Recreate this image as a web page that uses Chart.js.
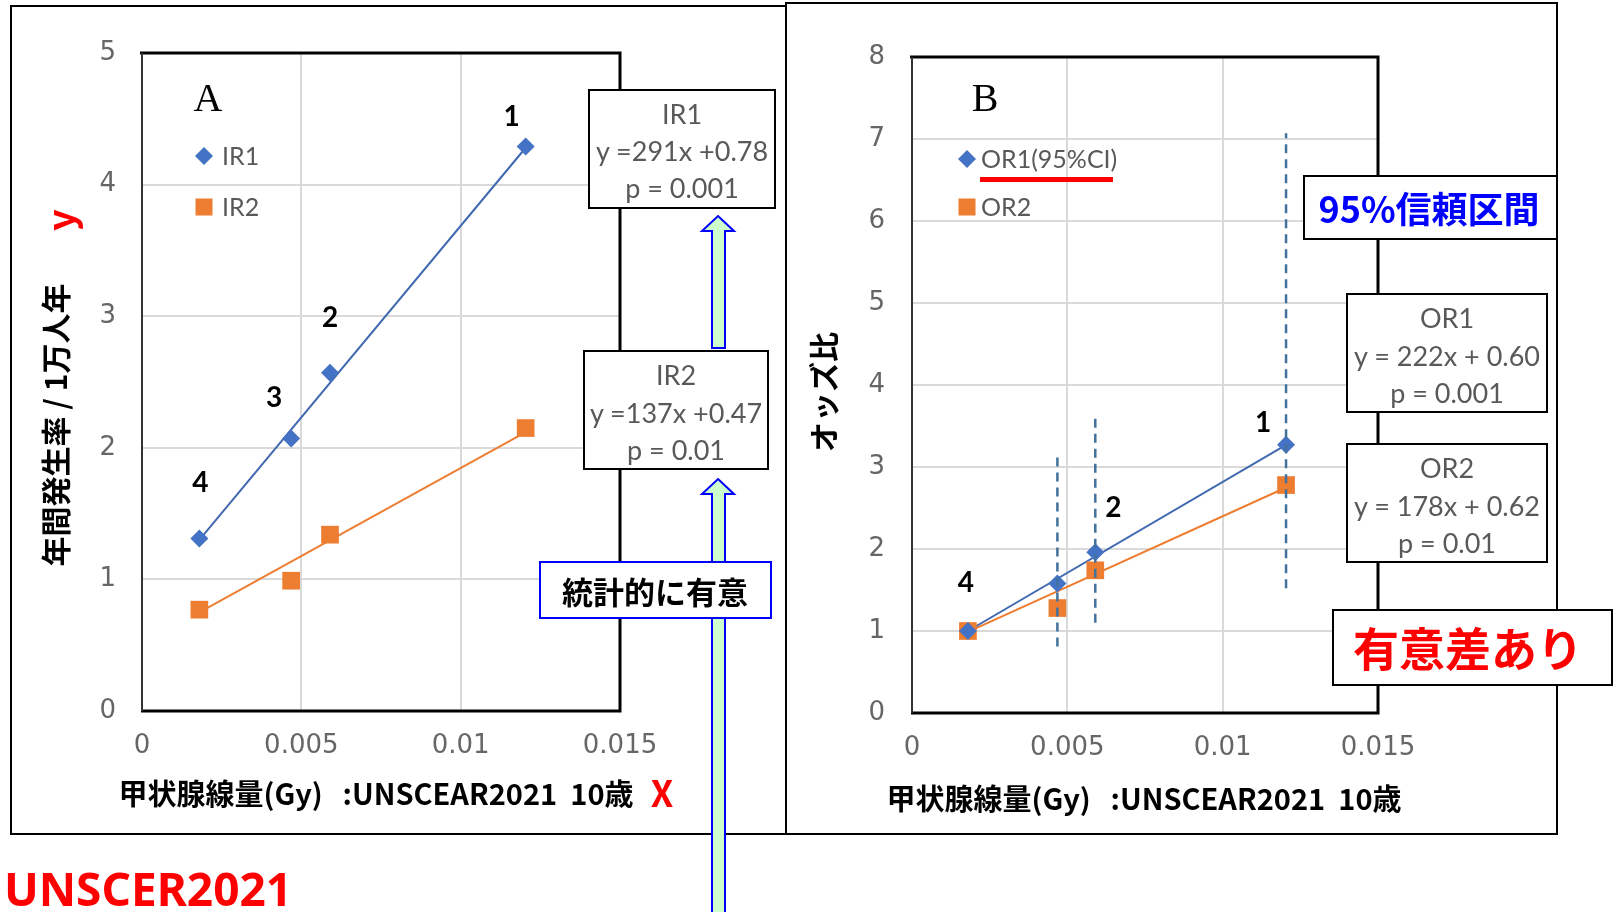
<!DOCTYPE html>
<html>
<head>
<meta charset="utf-8">
<script src="https://cdn.jsdelivr.net/npm/chart.js@4.4.1/dist/chart.umd.min.js"></script>
<style>
  html, body { margin: 0; padding: 0; background: #fff; }
  body { width: 1616px; height: 912px; position: relative; overflow: hidden;
         font-family: "Noto Sans CJK JP", "Noto Sans", sans-serif; }
  canvas { position: absolute; left: 0; top: 0; z-index: 1; }
  .frame { position: absolute; border: 2px solid #000; box-sizing: border-box; z-index: 0; }
  .box { position: absolute; border: 2px solid #000; background: #fff; box-sizing: border-box; z-index: 3; }
  .t { position: absolute; transform: translate(-50%, -50%); white-space: nowrap; line-height: 1; z-index: 4; }
  .eq { font-family: Lato, "Noto Sans", sans-serif; font-size: 27px; color: #595959; }
  .bold { font-weight: 700; color: #000; }
  .serif { font-family: "Liberation Serif", "DejaVu Serif", serif; font-size: 40px; color: #000; }
  svg.arrows { position: absolute; left: 0; top: 0; z-index: 2; }
</style>
</head>
<body>

<div class="frame" style="left:10px;top:5px;width:777px;height:830px;"></div>
<div class="frame" style="left:785px;top:2px;width:773px;height:833px;"></div>

<canvas id="chartA" width="1616" height="912"></canvas>
<canvas id="chartB" width="1616" height="912"></canvas>

<svg class="arrows" width="1616" height="912">
  <polygon points="718,216 734,231 725,231 725,348 712,348 712,231 702,231" fill="#ccffcc" stroke="#0000ff" stroke-width="2"/>
  <polygon points="718,479 734,494 725,494 725,916 712,916 712,494 702,494" fill="#ccffcc" stroke="#0000ff" stroke-width="2"/>
</svg>

<!-- panel A annotations -->
<div class="t serif" style="left:208px;top:98px;">A</div>
<div class="t bold" style="left:54px;top:425px;font-size:30px;transform:translate(-50%,-50%) rotate(-90deg);">年間発生率 / 1万人年</div>
<div class="t bold" style="left:59px;top:220px;font-size:38px;color:#ff0000;transform:translate(-50%,-50%) rotate(-90deg);">y</div>
<div class="t bold" style="left:376px;top:792px;font-size:29px;">甲状腺線量(Gy)&nbsp;&nbsp;&nbsp;:UNSCEAR2021&nbsp;&nbsp;10歳</div>
<div class="t bold" style="left:662px;top:791px;font-size:36px;color:#ff0000;">X</div>

<div class="box" style="left:588px;top:89px;width:188px;height:120px;"></div>
<div class="t eq" style="left:682px;top:113px;">IR1</div>
<div class="t eq" style="left:682px;top:150px;">y =291x +0.78</div>
<div class="t eq" style="left:682px;top:187px;">p = 0.001</div>

<div class="box" style="left:583px;top:350px;width:186px;height:120px;"></div>
<div class="t eq" style="left:676px;top:374px;">IR2</div>
<div class="t eq" style="left:676px;top:412px;">y =137x +0.47</div>
<div class="t eq" style="left:676px;top:449px;">p = 0.01</div>

<div class="box" style="left:539px;top:561px;width:233px;height:58px;border-color:#0000ff;"></div>
<div class="t bold" style="left:655px;top:590px;font-size:31px;">統計的に有意</div>

<div class="t bold" style="left:148px;top:888px;font-size:46px;color:#ff0000;font-family:'Noto Sans',sans-serif;">UNSCER2021</div>

<!-- panel B annotations -->
<div class="t serif" style="left:985px;top:98px;">B</div>
<div class="t bold" style="left:822px;top:392px;font-size:30px;transform:translate(-50%,-50%) rotate(-90deg);">オッズ比</div>
<div class="t bold" style="left:1144px;top:797px;font-size:29px;">甲状腺線量(Gy)&nbsp;&nbsp;&nbsp;:UNSCEAR2021&nbsp;&nbsp;10歳</div>
<div style="position:absolute;left:980px;top:177px;width:133px;height:5px;background:#ff0000;z-index:4;"></div>

<div class="box" style="left:1303px;top:175px;width:255px;height:65px;"></div>
<div class="t bold" style="left:1429px;top:207px;font-size:36px;color:#0000ff;">95%信頼区間</div>

<div class="box" style="left:1346px;top:293px;width:202px;height:120px;"></div>
<div class="t eq" style="left:1447px;top:317px;">OR1</div>
<div class="t eq" style="left:1447px;top:355px;">y = 222x + 0.60</div>
<div class="t eq" style="left:1447px;top:392px;">p = 0.001</div>

<div class="box" style="left:1346px;top:443px;width:202px;height:120px;"></div>
<div class="t eq" style="left:1447px;top:467px;">OR2</div>
<div class="t eq" style="left:1447px;top:505px;">y = 178x + 0.62</div>
<div class="t eq" style="left:1447px;top:542px;">p = 0.01</div>

<div class="box" style="left:1332px;top:609px;width:281px;height:77px;"></div>
<div class="t bold" style="left:1468px;top:646px;font-size:46px;color:#ff0000;">有意差あり</div>

<script>
// Thyroid dose (Gy), UNSCEAR2021, age 10 — regions 4, 3, 2, 1
const dose = [0.0018, 0.00468, 0.0059, 0.01204];
const pointNamesA = ['4', '3', '2', '1'];
const pointNamesB = ['4', '', '2', '1'];

// Panel A: annual incidence per 10,000 person-years
const ir1 = [1.31, 2.07, 2.57, 4.29];
const ir2 = [0.77, 0.99, 1.34, 2.15];
const ir1Trend = [1.30, 4.28];
const ir2Trend = [0.75, 2.12];

// Panel B: odds ratio with 95% CI for OR1
const or1 = [1.00, 1.58, 1.96, 3.27];
const or2 = [1.00, 1.28, 1.74, 2.78];
const or1Trend = [1.00, 3.27];
const or2Trend = [0.99, 2.75];
const or1CiLow = [null, 0.81, 1.10, 1.52];
const or1CiHigh = [null, 3.13, 3.62, 7.07];

const xTickValues = [0, 0.005, 0.01, 0.015];
const xTickLabels = ['0', '0.005', '0.01', '0.015'];
const yTickValuesA = [0, 1, 2, 3, 4, 5];
const yTickValuesB = [0, 1, 2, 3, 4, 5, 6, 7, 8];

const BLUE = '#4472C4';
const BLUE_LINE = '#4169B0';
const ORANGE = '#ED7D31';
const CI_BLUE = '#41719C';
const GRID = '#d9d9d9';
const TICK_COLOR = '#666';
const TICK_FONT = { family: '"DejaVu Sans"', size: 26 };

const pts = (xs, ys) => xs.map((x, i) => ({ x, y: ys[i] }));
const ends = (ys) => [{ x: dose[0], y: ys[0] }, { x: dose[dose.length - 1], y: ys[1] }];

// frame, point names and in-plot legend
const plotDecor = {
  id: 'plotDecor',
  afterDatasetsDraw(chart, args, opts) {
    const { ctx, chartArea: a } = chart;
    ctx.save();
    // point names
    ctx.font = 'bold 28px Lato, "Noto Sans", sans-serif';
    ctx.fillStyle = '#000';
    ctx.textAlign = 'center';
    ctx.textBaseline = 'middle';
    chart.data.datasets.forEach((ds, di) => {
      if (!ds.names) return;
      chart.getDatasetMeta(di).data.forEach((el, i) => {
        const name = ds.names[i];
        const off = opts.nameOffsets[i];
        if (!name || !off) return;
        ctx.fillText(name, el.x + off[0], el.y + off[1]);
      });
    });
    // legend
    ctx.font = '25px Lato, "Noto Sans", sans-serif';
    ctx.textAlign = 'left';
    let row = 0;
    chart.data.datasets.forEach((ds) => {
      if (!ds.inLegend) return;
      const cx = opts.legend.x;
      const cy = opts.legend.y + row * opts.legend.dy;
      ctx.fillStyle = ds.backgroundColor;
      ctx.beginPath();
      if (ds.pointStyle === 'rectRot') {
        const r = 9;
        ctx.moveTo(cx, cy - r); ctx.lineTo(cx + r, cy); ctx.lineTo(cx, cy + r); ctx.lineTo(cx - r, cy);
        ctx.closePath();
      } else {
        ctx.rect(cx - 8.5, cy - 8.5, 17, 17);
      }
      ctx.fill();
      ctx.fillStyle = '#595959';
      ctx.fillText(ds.label, opts.legend.textX, cy + 1);
      row++;
    });
    // plot frame
    ctx.strokeStyle = '#000';
    ctx.lineWidth = 3;
    ctx.beginPath();
    ctx.moveTo(a.left - 2, a.top);
    ctx.lineTo(a.right, a.top);
    ctx.lineTo(a.right, a.bottom);
    ctx.lineTo(a.left - 1, a.bottom);
    ctx.stroke();
    ctx.lineWidth = 2;
    ctx.strokeStyle = '#333';
    ctx.beginPath();
    ctx.moveTo(a.left, a.top);
    ctx.lineTo(a.left, a.bottom);
    ctx.stroke();
    ctx.restore();
  }
};

function axes(yTicks, yMax, yWidth, xHeight, yPad) {
  return {
    x: {
      type: 'linear', min: 0, max: 0.015,
      afterBuildTicks: (s) => { s.ticks = xTickValues.map(v => ({ value: v })); },
      afterFit: (s) => { s.height = xHeight; },
      ticks: { callback: (v, i) => xTickLabels[i], font: TICK_FONT, color: TICK_COLOR,
               padding: 20, maxRotation: 0, autoSkip: false },
      grid: { color: GRID, lineWidth: 2, drawTicks: false },
      border: { display: false }
    },
    y: {
      type: 'linear', min: 0, max: yMax,
      afterBuildTicks: (s) => { s.ticks = yTicks.map(v => ({ value: v })); },
      afterFit: (s) => { s.width = yWidth; },
      ticks: { callback: (v) => String(v), font: TICK_FONT, color: TICK_COLOR, padding: yPad, autoSkip: false },
      grid: { color: GRID, lineWidth: 2, drawTicks: false },
      border: { display: false }
    }
  };
}

const common = {
  responsive: false,
  animation: false,
  events: [],
  plugins: { legend: { display: false }, tooltip: { enabled: false } }
};

new Chart(document.getElementById('chartA'), {
  type: 'scatter',
  data: {
    datasets: [
      { label: 'IR1', data: pts(dose, ir1), pointStyle: 'rectRot', pointRadius: 9, borderWidth: 0,
        backgroundColor: BLUE, borderColor: BLUE, names: pointNamesA, inLegend: true },
      { label: 'IR2', data: pts(dose, ir2), pointStyle: 'rect', pointRadius: 12.5, borderWidth: 0,
        backgroundColor: ORANGE, borderColor: ORANGE, inLegend: true },
      { label: 'IR1 fit', data: ends(ir1Trend), showLine: true, pointRadius: 0, borderColor: BLUE_LINE, borderWidth: 2 },
      { label: 'IR2 fit', data: ends(ir2Trend), showLine: true, pointRadius: 0, borderColor: ORANGE, borderWidth: 2 }
    ]
  },
  options: Object.assign({}, common, {
    layout: { padding: { left: 0, top: 53, right: 996, bottom: 0 } },
    scales: axes(yTickValuesA, 5, 142, 201, 26),
    plugins: Object.assign({}, common.plugins, {
      plotDecor: {
        nameOffsets: [[1, -56], [-17, -41], [0, -55], [-14, -29]],
        legend: { x: 204, y: 156, dy: 51, textX: 222 }
      }
    })
  }),
  plugins: [plotDecor]
});

const ciSets = dose.map((x, i) => or1CiLow[i] === null ? null : {
  label: 'CI ' + pointNamesA[i], data: [{ x, y: or1CiLow[i] }, { x, y: or1CiHigh[i] }],
  showLine: true, pointRadius: 0, borderColor: CI_BLUE, borderWidth: 2.5, borderDash: [9, 6]
}).filter(Boolean);

new Chart(document.getElementById('chartB'), {
  type: 'scatter',
  data: {
    datasets: [
      ...ciSets,
      { label: 'OR1(95%CI)', data: pts(dose, or1), pointStyle: 'rectRot', pointRadius: 9, borderWidth: 0,
        backgroundColor: BLUE, borderColor: BLUE, names: pointNamesB, inLegend: true },
      { label: 'OR2', data: pts(dose, or2), pointStyle: 'rect', pointRadius: 12.5, borderWidth: 0,
        backgroundColor: ORANGE, borderColor: ORANGE, inLegend: true },
      { label: 'OR1 fit', data: ends(or1Trend), showLine: true, pointRadius: 0, borderColor: BLUE_LINE, borderWidth: 2 },
      { label: 'OR2 fit', data: ends(or2Trend), showLine: true, pointRadius: 0, borderColor: ORANGE, borderWidth: 2 }
    ]
  },
  options: Object.assign({}, common, {
    layout: { padding: { left: 800, top: 57, right: 238, bottom: 0 } },
    scales: axes(yTickValuesB, 8, 112, 199, 27),
    plugins: Object.assign({}, common.plugins, {
      plotDecor: {
        nameOffsets: [[-2, -48], null, [18, -44], [-23, -22]],
        legend: { x: 967, y: 159, dy: 48, textX: 981 }
      }
    })
  }),
  plugins: [plotDecor]
});
</script>
</body>
</html>
